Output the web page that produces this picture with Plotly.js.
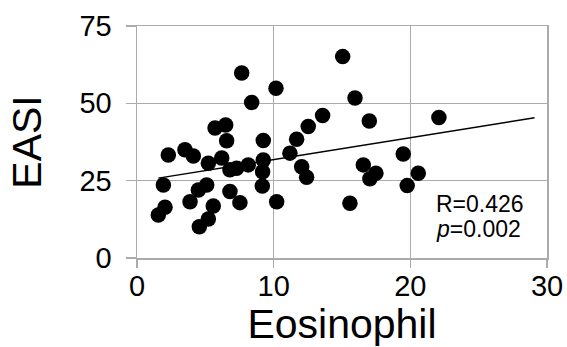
<!DOCTYPE html>
<html><head><meta charset="utf-8">
<script src="https://cdn.plot.ly/plotly-3.0.1.min.js"></script>
<style>html,body{margin:0;padding:0;background:#fff}#chart{width:567px;height:347px}</style>
</head><body><div id="chart"></div>
<script>
const eosinophil = [1.56,2.05,1.93,2.29,3.51,4.12,3.88,4.49,5.1,4.56,5.22,5.58,5.22,6.2,5.71,6.49,6.56,6.8,7.29,6.8,7.53,8.14,7.66,8.39,9.24,9.24,9.19,9.17,10.17,10.22,11.19,11.68,12.53,13.58,12.05,12.41,15.05,15.95,15.58,16.56,17.0,17.48,17.04,19.48,20.58,19.77,22.09];
const easi = [13.9,16.4,23.6,33.3,35.0,33.0,18.2,22.0,23.6,10.1,12.6,16.8,30.6,32.3,42.0,43.0,37.9,28.5,29.0,21.5,17.9,30.1,59.8,50.3,38.0,31.7,27.9,23.3,54.9,18.2,33.9,38.4,42.5,46.1,29.5,26.1,65.1,51.7,17.7,30.1,44.3,27.4,25.6,33.6,27.4,23.4,45.4];
const trendForward = 7;
const xTicks = [0,10,20,30];
const yTicks = [0,25,50,75];
const statR = 'R=0.426';
const statP = '<i>p</i>=0.002';

// least-squares trend line
const n = eosinophil.length;
const mx = eosinophil.reduce((a,b)=>a+b,0)/n;
const my = easi.reduce((a,b)=>a+b,0)/n;
let sxy=0, sxx=0;
for (let i=0;i<n;i++){ sxy += (eosinophil[i]-mx)*(easi[i]-my); sxx += (eosinophil[i]-mx)**2; }
const slope = sxy/sxx, intercept = my - slope*mx;
const tx = [Math.min(...eosinophil), Math.max(...eosinophil)+trendForward];
const ty = tx.map(v=>intercept+slope*v);

const font = 'Liberation Sans, Arial, sans-serif';
const grid = '#ababab';
const data = [
  {x: eosinophil, y: easi, type:'scatter', mode:'markers', marker:{color:'#000', size:15.5}, hoverinfo:'skip'},
  {x: tx, y: ty, type:'scatter', mode:'lines', line:{color:'#000', width:1.5}, hoverinfo:'skip'}
];
const axisCommon = {showgrid:true, gridcolor:grid, gridwidth:1.5, showline:true, linecolor:grid, linewidth:1.5,
  mirror:true, ticks:'outside', tickcolor:grid, tickwidth:1.5, tickfont:{size:29, family:font}, zeroline:false};
const layout = {
  width:567, height:347,
  margin:{l:137, r:20, t:26, b:89},
  paper_bgcolor:'#fff', plot_bgcolor:'#fff',
  showlegend:false,
  font:{family:font, color:'#000'},
  xaxis:Object.assign({}, axisCommon, {range:[0,30], tickvals:xTicks, ticktext:xTicks.map(String), ticklen:8,
    ticklabelstandoff:-6,
    title:{text:'Eosinophil', font:{size:41, family:font}, standoff:0}}),
  yaxis:Object.assign({}, axisCommon, {range:[0,75], tickvals:yTicks, ticktext:yTicks.map(String), ticklen:10,
    ticklabelstandoff:8,
    title:{text:'EASI', font:{size:41, family:font}, standoff:25}}),
  annotations:[
    {xref:'x', yref:'y', x:21.7, y:17.3, xanchor:'left', yanchor:'middle', showarrow:false,
      text: statR, font:{size:23, family:font, color:'#000'}},
    {xref:'x', yref:'y', x:21.7, y:9.5, xanchor:'left', yanchor:'middle', showarrow:false,
      text: statP, font:{size:23, family:font, color:'#000'}}
  ]
};
Plotly.newPlot('chart', data, layout, {staticPlot:true});
</script></body></html>
